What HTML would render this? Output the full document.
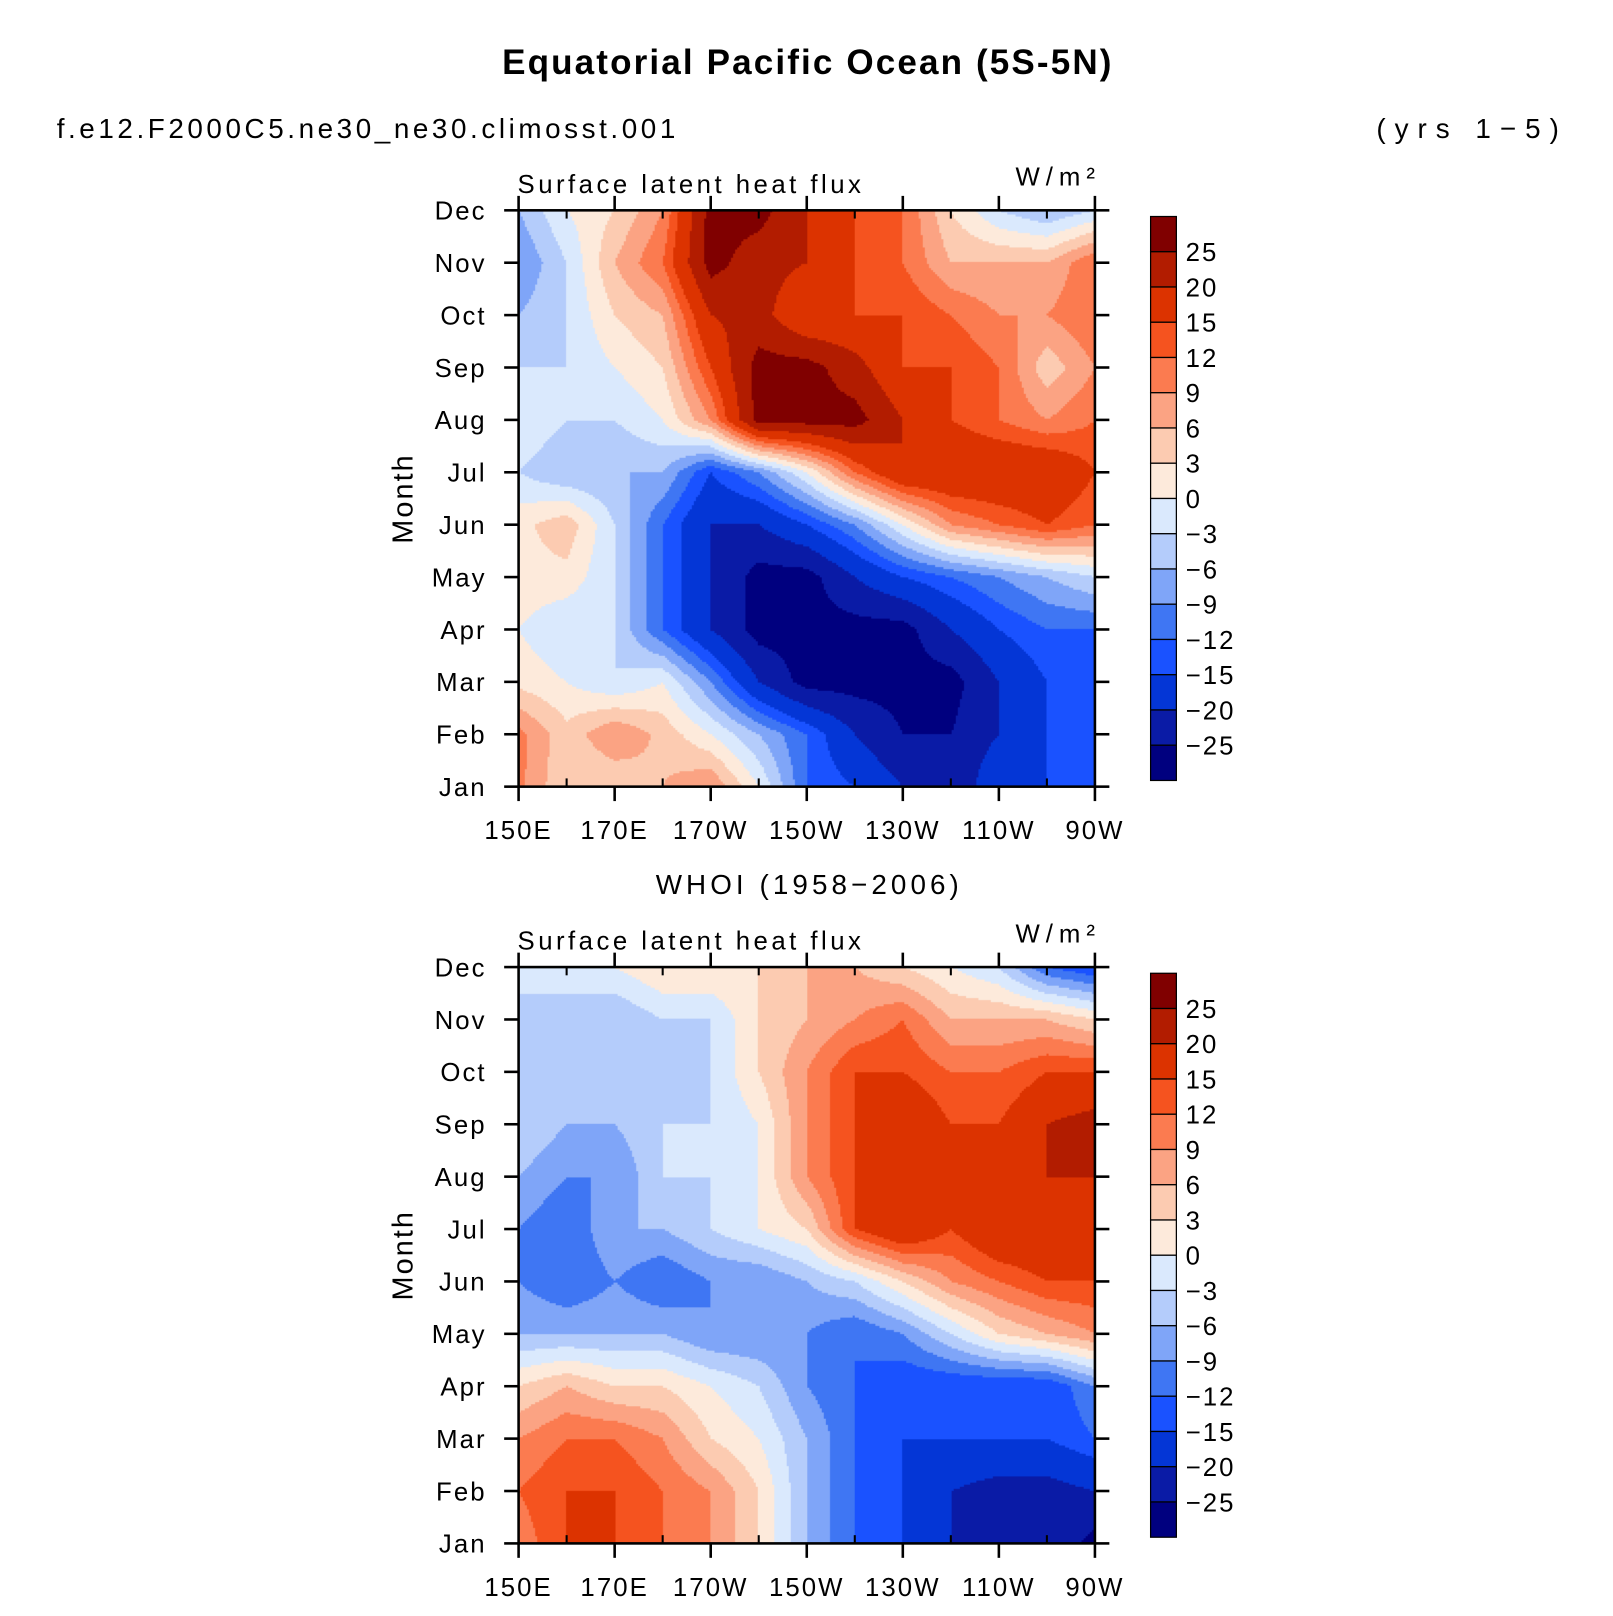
<!DOCTYPE html>
<html><head><meta charset="utf-8"><style>
body{margin:0;background:#fff;}
#root{position:relative;width:1613px;height:1616px;overflow:hidden;background:#fff;font-family:"Liberation Sans",sans-serif;}
.tk{letter-spacing:2px;}
</style></head><body>
<div id="root">
<svg id="svg" width="1613" height="1616" style="position:absolute;left:0;top:0"><g id="main" transform="scale(1.031)"></g></svg>
</div>
<script>
const months=["Jan","Feb","Mar","Apr","May","Jun","Jul","Aug","Sep","Oct","Nov","Dec"];
const lonLabels=["150E","170E","170W","150W","130W","110W","90W"];
const levels=[-25,-20,-15,-12,-9,-6,-3,0,3,6,9,12,15,20,25];
const levelLabels=["25","20","15","12","9","6","3","0","\u22123","\u22126","\u22129","\u221212","\u221215","\u221220","\u221225"];
const colors=["#00007f","#0a1ba6","#0436d6","#1a52ff","#3f76f3","#7fa5f8","#b4ccfb","#dae9fd","#fdeadb","#fccbb1","#fba383","#fb7b50","#f5531f","#dc3300","#b21c00","#800000"];
// rows Jan..Dec, cols 150E,160E,...,90W
const modelData=[
[10,3,3,6,9,0,-12,-15,-20,-25,-15,-15,-15],
[10,4,9,5,0,-6,-12,-20,-25,-25,-20,-15,-12],
[2,0,-3,0,-9,-20,-27,-27,-27,-27,-20,-15,-15],
[0,-3,-3,-12,-20,-27,-27,-27,-27,-20,-15,-12,-12],
[2,2,-3,-12,-20,-27,-27,-20,-15,-12,-9,-6,-3],
[2,5,-3,-12,-20,-20,-15,-9,0,9,12,15,12],
[-3,-6,-6,-6,-15,-9,0,12,20,20,20,20,15],
[0,-3,-3,0,9,27,27,27,20,15,12,9,12],
[-3,-3,0,3,15,27,27,22,15,15,12,4,9],
[-6,-3,3,6,20,22,15,15,15,12,9,9,12],
[-9,-3,6,12,27,22,20,15,12,6,6,6,12],
[-6,0,3,9,27,27,20,15,12,3,-3,-6,-3]];
const obsData=[
[10,15,15,12,9,3,-6,-12,-15,-20,-20,-20,-27],
[12,15,15,12,9,3,-6,-12,-15,-20,-22,-22,-20],
[9,12,12,9,3,0,-6,-12,-15,-15,-15,-15,-12],
[3,6,3,3,0,-3,-9,-12,-15,-15,-15,-15,-9],
[-6,-6,-6,-6,-9,-9,-9,-12,-9,-3,3,6,9],
[-9,-12,-9,-12,-9,-9,-6,-3,3,9,12,15,15],
[-9,-12,-6,-6,-3,0,3,15,20,15,20,20,15],
[-6,-9,-9,-3,-3,0,9,15,20,20,15,20,20],
[-3,-6,-6,-3,-3,0,9,15,20,15,15,20,22],
[-3,-3,-3,-6,-3,3,9,15,15,12,12,15,15],
[-3,-6,-6,-3,-3,3,6,9,12,6,6,6,3],
[-3,0,0,3,3,3,6,6,3,0,-3,-12,-15]];

const NS="http://www.w3.org/2000/svg";
const svg=document.getElementById('main');
function el(tag,attrs,parent){const e=document.createElementNS(NS,tag);for(const k in attrs)e.setAttribute(k,attrs[k]);(parent||svg).appendChild(e);return e;}
function txt(s,attrs,parent){const t=el('text',attrs,parent);t.textContent=s;return t;}
function colorFor(v){let i=0;while(i<levels.length&&v>=levels[i])i++;return colors[i];}

const X0=503,X1=1062;
function panel(data,top,name){
  const Y0=top,Y1=top+559;
  const xs=i=>X0+(X1-X0)*i/12;
  const ys=m=>Y1-(Y1-Y0)*m/11;
  const g=el('g',{},svg);
  
  
  const fo=el('foreignObject',{x:X0,y:Y0,width:X1-X0,height:Y1-Y0},g);
  const cv=document.createElement('canvas');cv.width=X1-X0;cv.height=Y1-Y0;
  
  
  cv.style.display='block';
  fo.appendChild(cv);
  const ctx=cv.getContext('2d');const c=2;
  for(let py=0;py<cv.height;py+=c){
    const m=(Y1-(Y0+py+c/2))/(Y1-Y0)*11;
    const m0=Math.max(0,Math.min(10,Math.floor(m))),fm=m-m0;
    for(let px=0;px<cv.width;px+=c){
      const l=(px+c/2)/(X1-X0)*12;
      const l0=Math.max(0,Math.min(11,Math.floor(l))),fl=l-l0;
      const v=(data[m0][l0]*(1-fl)+data[m0][l0+1]*fl)*(1-fm)+(data[m0+1][l0]*(1-fl)+data[m0+1][l0+1]*fl)*fm;
      ctx.fillStyle=colorFor(v);ctx.fillRect(px,py,c,c);
    }
  }
  const f=el('rect',{x:X0,y:Y0,width:X1-X0,height:Y1-Y0,fill:'none',stroke:'#000','stroke-width':2.5},g);
  
  for(let m=0;m<12;m++){
    const y=ys(m);
    el('line',{x1:X0-14,y1:y,x2:X0,y2:y,stroke:'#000','stroke-width':2.5},g);
    el('line',{x1:X1,y1:y,x2:X1+14,y2:y,stroke:'#000','stroke-width':2.5},g);
    const t=txt(months[m],{x:472,y:y+9,'font-size':25,'text-anchor':'end',fill:'#000',class:'tk'},g);
    
    
  }
  for(let i=0;i<=12;i++){
    const x=xs(i);const maj=i%2===0;
    if(maj){
      el('line',{x1:x,y1:Y1,x2:x,y2:Y1+14,stroke:'#000','stroke-width':2.5},g);
      el('line',{x1:x,y1:Y0-14,x2:x,y2:Y0,stroke:'#000','stroke-width':2.5},g);
      const t=txt(lonLabels[i/2],{x:x,y:Y1+51,'font-size':25,'text-anchor':'middle',fill:'#000',class:'tk'},g);
      
      
    }else{
      el('line',{x1:x,y1:Y1,x2:x,y2:Y1-8,stroke:'#000','stroke-width':2},g);
      el('line',{x1:x,y1:Y0,x2:x,y2:Y0+8,stroke:'#000','stroke-width':2},g);
    }
  }
  const yt=txt('Month',{x:0,y:0,'font-size':28,'text-anchor':'middle',fill:'#000',class:'tk',transform:`translate(400,${(Y0+Y1)/2}) rotate(-90)`},g);
  
  const lt=txt('Surface latent heat flux',{x:502,y:Y0-17,'font-size':25,fill:'#000',textLength:333,lengthAdjust:'spacing'},g);
  
  const ut=txt('W/m\u00b2',{x:985,y:Y0-24,'font-size':25,fill:'#000',textLength:77,lengthAdjust:'spacing'},g);
  
  const cb=el('g',{},svg);
  
  const cTop=Y0+6,bh=547/16;
  for(let k=0;k<16;k++){
    el('rect',{x:1116,y:cTop+k*bh,width:25,height:bh,fill:colors[15-k],stroke:'#000','stroke-width':1.2},cb);
  }
  for(let k=0;k<15;k++){
    const t=txt(levelLabels[k],{x:1150,y:cTop+(k+1)*bh+9,'font-size':25,fill:'#000',class:'tk'},cb);
    
  }
}
const t1=txt('Equatorial Pacific Ocean (5S-5N)',{x:487,y:72,'font-size':34,'font-weight':'bold',fill:'#000',textLength:591,lengthAdjust:'spacing'});

const t2=txt('f.e12.F2000C5.ne30_ne30.climosst.001',{x:55,y:134,'font-size':27,fill:'#000',textLength:600,lengthAdjust:'spacing'});

const t3=txt('(yrs 1\u22125)',{x:1335,y:134,'font-size':27,fill:'#000',textLength:177,lengthAdjust:'spacing'});

const t4=txt('WHOI (1958\u22122006)',{x:636,y:867,'font-size':27,fill:'#000',textLength:294,lengthAdjust:'spacing'});

panel(modelData,204,'model');
panel(obsData,938,'obs');
</script>
</body></html>
